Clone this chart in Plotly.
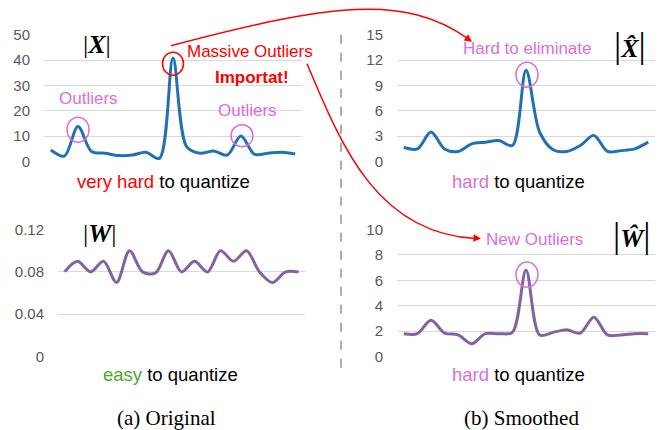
import plotly.graph_objects as go

W_PX, H_PX = 665, 430

categories = list(range(1, 20))
x_original = [4.6, 2.2, 13.8, 4.0, 3.3, 2.4, 2.6, 3.7, 1.3, 40.8, 5.9, 3.3, 4.2, 2.6, 10.1, 2.9, 3.3, 3.7, 3.0]
w_original = [0.08, 0.09, 0.08, 0.09, 0.07, 0.10, 0.08, 0.079, 0.10, 0.08, 0.09, 0.08, 0.10, 0.09, 0.10, 0.08, 0.07, 0.08, 0.08]
x_smoothed = [1.7, 1.5, 3.5, 1.5, 1.2, 2.1, 2.3, 2.5, 1.9, 10.8, 3.5, 1.4, 1.2, 1.9, 3.1, 1.2, 1.3, 1.5, 2.3]
w_smoothed = [1.8, 1.8, 2.85, 1.85, 1.7, 1.0, 1.8, 1.8, 1.9, 6.8, 1.7, 1.9, 2.1, 1.85, 3.1, 1.7, 1.7, 1.8, 1.8]

ticks_x_orig = [0, 10, 20, 30, 40, 50]
ticks_w_orig = [0, 0.04, 0.08, 0.12]
ticks_x_smooth = [0, 3, 6, 9, 12, 15]
ticks_w_smooth = [0, 2, 4, 6, 8, 10]

BLUE = "#2470b5"
PURPLE = "#8064a2"
PINK = "#da6fd6"
RED = "#ff0000"
GREEN = "#4ea72e"
TICK = "#595959"
GRID = "#d9d9d9"
SANS = "Liberation Sans"
SERIF = "Liberation Serif"

# mapping from target picture pixels to paper fractions (calibrated)
X_OFF = 8.0
Y_OFF, Y_SCALE = 15.3, 0.961


def px(x):
    return (x - X_OFF) / W_PX


def py(y):
    return 1 - ((y - Y_OFF) / Y_SCALE) / H_PX


fig = go.Figure()

panels = [
    ("x", "y", x_original, BLUE, (44, 302), (33, 160), [0, 50], ticks_x_orig, None),
    ("x2", "y2", x_smoothed, BLUE, (397, 655), (33, 160), [0, 15], ticks_x_smooth, None),
    ("x3", "y3", w_original, PURPLE, (58, 305), (228, 355), [0, 0.12], ticks_w_orig, ["0", "0.04", "0.08", "0.12"]),
    ("x4", "y4", w_smoothed, PURPLE, (397, 655), (228, 355), [0, 10], ticks_w_smooth, None),
]

for i, (xa, ya, vals, col, xd, yd, yr, tv, tt) in enumerate(panels):
    fig.add_trace(go.Scatter(
        x=categories, y=vals, mode="lines", xaxis=xa, yaxis=ya,
        line=dict(color=col, width=3, shape="spline", smoothing=0.9),
        showlegend=False, hoverinfo="skip"))
    n = "" if i == 0 else str(i + 1)
    fig.layout["xaxis" + n] = dict(
        domain=[px(xd[0]), px(xd[1])], range=[0.5, 19.5], showgrid=False,
        zeroline=False, showticklabels=False, showline=False, anchor=ya, fixedrange=True)
    yax = dict(
        domain=[py(yd[1]), py(yd[0])], range=yr, tickvals=tv, showgrid=True,
        gridcolor=GRID, gridwidth=1, zeroline=False, showline=False, anchor=xa,
        tickfont=dict(family=SANS, size=15, color=TICK), ticklabelstandoff=13,
        fixedrange=True)
    if tt:
        yax["ticktext"] = tt
    fig.layout["yaxis" + n] = yax


def text(x, y, t, size, color="black", family=SANS, anchor="center"):
    fig.add_annotation(x=px(x), y=py(y), xref="paper", yref="paper", text=t,
                       showarrow=False, xanchor=anchor, yanchor="middle",
                       font=dict(family=family, size=size, color=color))


def ellipse(cx, cy, w, h, color):
    fig.add_shape(type="circle", xref="paper", yref="paper",
                  x0=px(cx - w / 2), x1=px(cx + w / 2), y0=py(cy + h / 2), y1=py(cy - h / 2),
                  line=dict(color=color, width=1.5))


# Titles with |.|
text(97, 43, "|<b><i>X</i></b>|", 26, family=SERIF)
text(630, 43, "<span style='font-size:36px'>|</span><b><i>X̂</i></b><span style='font-size:36px'>|</span>", 26, family=SERIF)
text(100, 232, "|<b><i>W</i></b>|", 26, family=SERIF)
text(632, 233, "<span style='font-size:36px'>|</span><b><i>Ŵ</i></b><span style='font-size:36px'>|</span>", 26, family=SERIF)

# Top-left annotations
text(250, 50, "Massive Outliers", 17, RED)
text(252, 76, "<b>Importat!</b>", 17, RED)
text(88, 97, "Outliers", 17, PINK)
text(247, 109, "Outliers", 17, PINK)
ellipse(173, 62, 21, 23, RED)
ellipse(78, 128, 22, 25, PINK)
ellipse(242, 134, 22, 22, PINK)
text(163, 180, "<span style='color:#ff0000'>very hard</span> to quantize", 18.5)

# Top-right annotations
text(527, 47, "Hard to eliminate", 17, PINK)
ellipse(527, 73, 22, 25, PINK)
text(518, 180, f"<span style='color:{PINK}'>hard</span> to quantize", 18.5)

# Bottom-left
text(170, 373, f"<span style='color:{GREEN}'>easy</span> to quantize", 18.5)
text(166, 417, "(a) Original", 21, family=SERIF)

# Bottom-right
text(534, 238, "New Outliers", 17, PINK)
ellipse(527, 273, 22, 25, PINK)
text(518, 373, f"<span style='color:{PINK}'>hard</span> to quantize", 18.5)
text(521, 417, "(b) Smoothed", 21, family=SERIF)

# Dashed separator
fig.add_shape(type="line", xref="paper", yref="paper", x0=px(341), x1=px(341),
              y0=py(33), y1=py(368), line=dict(color="#7f7f7f", width=1.3, dash="dash"))


def bez(p0, p1, p2, p3):
    pts = [p0, p1, p2, p3]
    s = "M {:.5f},{:.5f} C ".format(px(p0[0]), py(p0[1]))
    s += " ".join("{:.5f},{:.5f}".format(px(p[0]), py(p[1])) for p in pts[1:])
    return s


fig.add_shape(type="path", xref="paper", yref="paper",
              path=bez((171, 44), (330, 2), (405, -8), (468, 37)),
              line=dict(color=RED, width=1.5))
fig.add_shape(type="path", xref="paper", yref="paper",
              path=bez((307, 62), (340, 140), (375, 232), (476, 237)),
              line=dict(color=RED, width=1.5))


def arrowhead(x, y, dx, dy):
    fig.add_annotation(x=px(x), y=py(y), xref="paper", yref="paper", text="",
                       showarrow=True, ax=-dx, ay=-dy, axref="pixel", ayref="pixel",
                       arrowhead=2, arrowsize=1, arrowwidth=1.5, arrowcolor=RED)


arrowhead(472, 40, 7, 5)
arrowhead(481, 237, 8, 0.5)

fig.update_layout(
    width=W_PX, height=H_PX, margin=dict(l=0, r=0, t=0, b=0),
    paper_bgcolor="white", plot_bgcolor="white",
)

fig.write_html("out.html")
